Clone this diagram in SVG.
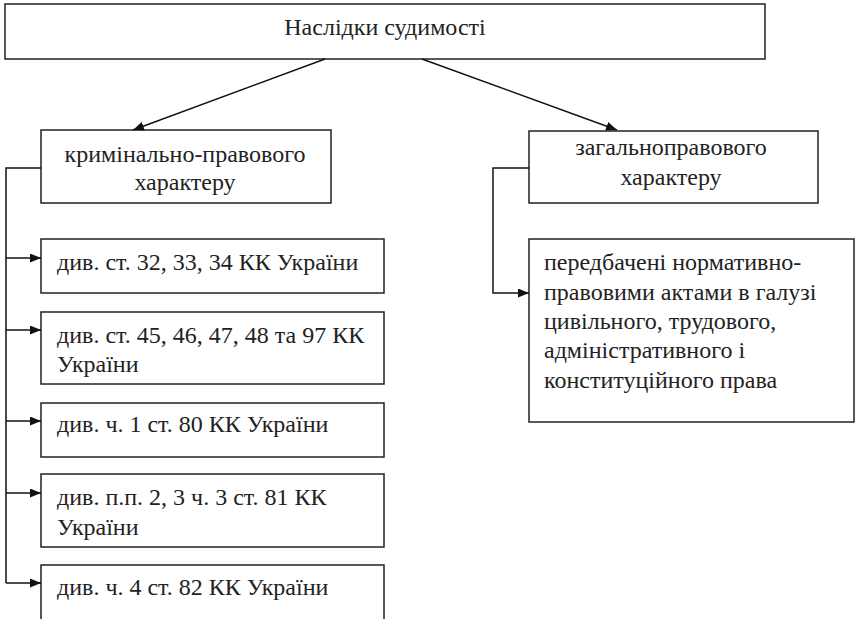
<svg xmlns="http://www.w3.org/2000/svg" width="855" height="619" viewBox="0 0 855 619">
<defs>
<marker id="ah" markerWidth="11" markerHeight="9" refX="11" refY="4.5" orient="auto" markerUnits="userSpaceOnUse">
<path d="M0,0 L11,4.5 L0,9 Z" fill="#111"/>
</marker>
<style>
.box{fill:#fff;stroke:#222;stroke-width:1.5}
.t{font-family:"Liberation Serif","Times New Roman",serif;font-size:24px;fill:#222}
.c{text-anchor:middle}
.ln{fill:none;stroke:#111;stroke-width:1.5}
</style>
</defs>
<rect width="855" height="619" fill="#fff"/>
<g id="root">
<rect class="box" x="5" y="4" width="760" height="55"/>
<text class="t c" x="385" y="35">Наслідки судимості</text>
</g>
<g id="crim">
<rect class="box" x="41" y="130" width="290" height="73"/>
<text class="t c" x="185" y="162">кримінально-правового</text>
<text class="t c" x="185" y="190">характеру</text>
</g>
<g id="gen">
<rect class="box" x="529" y="131" width="289" height="72"/>
<text class="t c" x="671" y="155">загальноправового</text>
<text class="t c" x="671" y="185">характеру</text>
</g>
<g id="i1">
<rect class="box" x="41" y="239" width="343" height="54"/>
<text class="t" x="57" y="270">див. ст. 32, 33, 34 КК України</text>
</g>
<g id="i2">
<rect class="box" x="41" y="312" width="343" height="72"/>
<text class="t" x="57" y="343">див. ст. 45, 46, 47, 48 та 97 КК</text>
<text class="t" x="57" y="372">України</text>
</g>
<g id="i3">
<rect class="box" x="41" y="403" width="343" height="54"/>
<text class="t" x="57" y="432">див. ч. 1 ст. 80 КК України</text>
</g>
<g id="i4">
<rect class="box" x="41" y="474" width="343" height="73"/>
<text class="t" x="57" y="505">див. п.п. 2, 3 ч. 3 ст. 81 КК</text>
<text class="t" x="57" y="535">України</text>
</g>
<g id="i5">
<rect class="box" x="41" y="565" width="343" height="60"/>
<text class="t" x="57" y="595">див. ч. 4 ст. 82 КК України</text>
</g>
<g id="r1">
<rect class="box" x="529" y="239" width="325" height="183"/>
<text class="t" x="544" y="270">передбачені нормативно-</text>
<text class="t" x="544" y="300">правовими актами в галузі</text>
<text class="t" x="544" y="329">цивільного, трудового,</text>
<text class="t" x="544" y="358">адміністративного і</text>
<text class="t" x="544" y="388">конституційного права</text>
</g>
<g id="connectors">
<line class="ln" x1="325" y1="59" x2="133" y2="130" marker-end="url(#ah)"/>
<line class="ln" x1="422" y1="59" x2="617" y2="130" marker-end="url(#ah)"/>
<polyline class="ln" points="41,168 6,168 6,583"/>
<line class="ln" x1="6" y1="258" x2="41" y2="258" marker-end="url(#ah)"/>
<line class="ln" x1="6" y1="330" x2="41" y2="330" marker-end="url(#ah)"/>
<line class="ln" x1="6" y1="421" x2="41" y2="421" marker-end="url(#ah)"/>
<line class="ln" x1="6" y1="493" x2="41" y2="493" marker-end="url(#ah)"/>
<line class="ln" x1="6" y1="583" x2="41" y2="583" marker-end="url(#ah)"/>
<polyline class="ln" points="529,168 493,168 493,293 529,293" marker-end="url(#ah)"/>
</g>
</svg>
